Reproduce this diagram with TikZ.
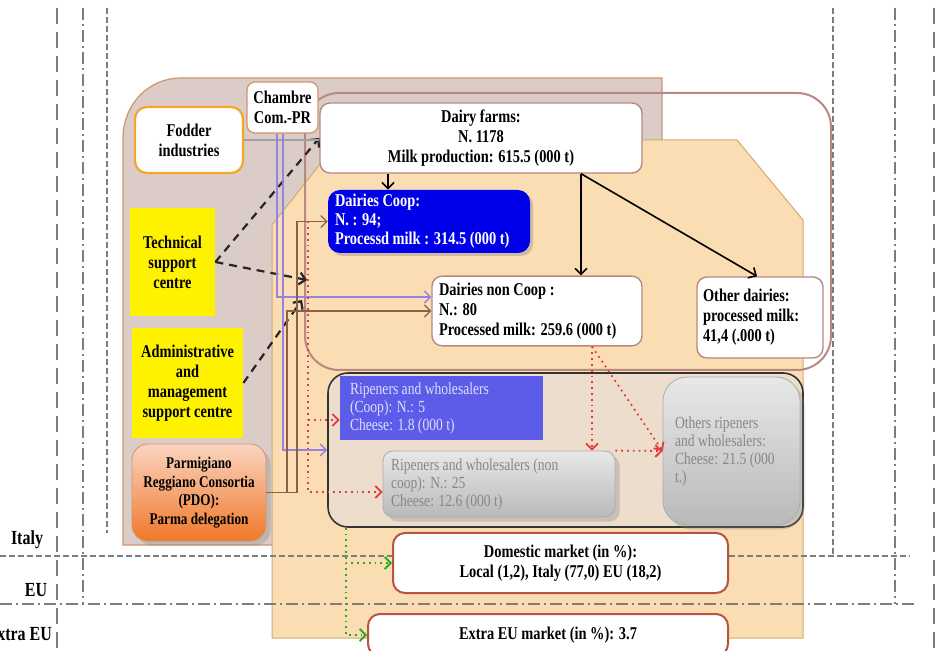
\documentclass[tikz,border=0pt]{standalone}
\usepackage{fontspec}
\setmainfont{Liberation Serif}[FakeStretch=0.8]
\usetikzlibrary{arrows.meta,shadows}
\definecolor{pinkbg}{RGB}{219,204,199}
\definecolor{pinkln}{RGB}{205,150,110}
\definecolor{tanbg}{RGB}{250,221,178}
\definecolor{tanln}{RGB}{212,170,110}
\definecolor{ripbg}{RGB}{236,221,204}
\definecolor{coopblue}{RGB}{0,0,232}
\definecolor{ripblue}{RGB}{92,92,232}
\definecolor{boxln}{RGB}{184,136,130}
\definecolor{mktln}{RGB}{184,84,66}
\definecolor{fodln}{RGB}{244,166,40}
\definecolor{brownln}{RGB}{140,96,72}
\definecolor{purpln}{RGB}{150,130,225}
\definecolor{reddot}{RGB}{226,60,60}
\definecolor{greendot}{RGB}{40,170,40}
\definecolor{bordln}{RGB}{125,125,125}
\begin{document}
\begin{tikzpicture}[x=0.5pt,y=-0.5pt,>={Straight Barb[length=3pt,width=6pt]},
	txt/.style={font=\fontsize{9}{10}\selectfont\bfseries,align=center},
	whitebox/.style={txt,draw=boxln,fill=white,rounded corners=5pt,line width=0.7pt},
	lbox/.style={whitebox,align=flush left},
	fodbox/.style={txt,draw=fodln,fill=white,rounded corners=6pt,line width=1.1pt},
	chambox/.style={txt,draw=pinkln,fill=white,rounded corners=4pt,line width=0.6pt,inner sep=2pt},
	yelbox/.style={txt,fill=yellow},
	coopbox/.style={font=\fontsize{9}{9.5}\selectfont\bfseries,align=flush left,fill=coopblue,text=white,rounded corners=6pt,
		drop shadow={shadow xshift=1.5pt,shadow yshift=-1.5pt,opacity=0.35}},
	parmbox/.style={font=\fontsize{8.2}{9.3}\selectfont\bfseries,align=center,draw=pinkln,
		top color={rgb,255:red,250;green,212;blue,192},bottom color={rgb,255:red,240;green,120;blue,40},
		rounded corners=8pt,drop shadow={opacity=0.3}},
	riptxt/.style={font=\fontsize{8.5}{9}\selectfont,align=flush left},
	ripcoopbox/.style={riptxt,fill=ripblue,text={rgb,255:red,222;green,222;blue,255}},
	graybox/.style={riptxt,top color=gray!18,bottom color=gray!55,draw=gray!65,
		text={rgb,255:red,135;green,135;blue,135},rounded corners=5pt,drop shadow={opacity=0.3}},
	mktbox/.style={txt,draw=mktln,fill=white,rounded corners=6pt,line width=1pt},
	lbl/.style={font=\fontsize{10}{11}\selectfont\bfseries},
	italyln/.style={bordln,line width=0.6pt,dash pattern=on 3pt off 1.5pt},
	euln/.style={bordln,line width=0.6pt,dash pattern=on 6pt off 2pt on 1pt off 2pt},
	extraln/.style={bordln,line width=0.7pt,dash pattern=on 8pt off 4pt},
	farmarrow/.style={->,thick,black},
	tscarrow/.style={->,line width=1.1pt,black!85,dash pattern=on 4pt off 3pt},
	brownarrow/.style={->,brownln,line width=0.6pt},
	purparrow/.style={->,purpln,line width=0.7pt},
	redarrow/.style={->,reddot,line width=0.9pt,dotted},
	greenarrow/.style={->,greendot,line width=0.9pt,dotted}]
	\clip (0,0) rectangle (947,651);
	%backgrounds
	\filldraw[fill=pinkbg,draw=pinkln,line width=0.6pt] (123,545) -- (123,138) .. controls (123,105) and (148,78) .. (181,78) -- (662,78) -- (662,545) -- cycle;
	\filldraw[fill=tanbg,draw=tanln,line width=0.5pt] (272,225) -- (339,140) -- (737,140) -- (803,220) -- (803,638) -- (272,638) -- cycle;
	\draw[boxln,line width=1pt,rounded corners=17pt] (305,93) rectangle (831,370);
	%Italy, EU, Extra EU
	\draw[italyln] (107,8) -- (107,533);
	\draw[italyln] (833,8) -- (833,556);
	\draw[italyln] (0,556) -- (910,556);
	\draw[euln] (83,8) -- (83,604);
	\draw[euln] (895,8) -- (895,604);
	\draw[euln] (0,604) -- (917,604);
	\draw[extraln] (57,8) -- (57,651);
	\draw[extraln] (934,8) -- (934,651);
	\node[lbl] (italy) at (27,540) {Italy};
	\node[lbl] (eu) at (36,590) {EU};
	\node[lbl,anchor=east] (extraeu) at (59,634) {Extra EU};
	%ripeners frame
	\node[draw=black!80,fill=ripbg,line width=0.8pt,rounded corners=10pt,minimum width=237.5pt,minimum height=77pt] (ripouter) at (565.5,450) {};
	%boxes
	\node[fodbox,minimum width=54pt,minimum height=33pt] (fodder) at (189,140) {Fodder\\industries};
	\node[chambox,minimum width=35.5pt,minimum height=25.5pt] (chambre) at (282.5,107.5) {Chambre\\Com.-PR};
	\node[whitebox,minimum width=161pt,minimum height=35pt] (farms) at (481,138) {Dairy farms:\\N. 1178\\Milk production: 615.5 (000 t)};
	\node[coopbox,text width=94pt,inner xsep=3.5pt,inner ysep=1.5pt,minimum height=31.5pt] (coop) at (429,221.5) {Dairies Coop:\\N. : 94;\\Processd milk : 314.5 (000 t)};
	\node[lbox,text width=98pt,inner xsep=3.5pt,minimum height=33pt] (noncoop) at (537,311) {Dairies non Coop :\\N.: 80\\Processed milk: 259.6 (000 t)};
	\node[lbox,text width=57pt,inner xsep=3pt,minimum height=40.5pt] (other) at (760,317.5) {Other dairies:\\processed milk:\\41,4 (.000 t)};
	\node[yelbox,minimum width=42.5pt,minimum height=54pt] (techn) at (172.5,262) {Technical\\support\\centre};
	\node[yelbox,minimum width=55.5pt,minimum height=55pt] (admin) at (187.5,383) {Administrative\\and\\management\\support centre};
	\node[parmbox,minimum width=67pt,minimum height=48.5pt] (parm) at (199,492.5) {Parmigiano\\Reggiano Consortia\\(PDO):\\Parma delegation};
	\node[ripcoopbox,text width=91.5pt,inner xsep=5pt,minimum height=31pt] (ripcoop) at (441.5,408) {Ripeners and wholesalers\\(Coop): N.: 5\\Cheese: 1.8 (000 t)};
	\node[graybox,text width=108pt,inner xsep=4pt,minimum height=33pt] (ripnon) at (499,484) {Ripeners and wholesalers (non\\coop): N.: 25\\Cheese: 12.6 (000 t)};
	\node[graybox,text width=56.5pt,inner xsep=6pt,minimum height=74pt,rounded corners=12pt] (ripoth) at (731.5,451) {Others ripeners\\and wholesalers:\\Cheese: 21.5 (000\\t.)};
	\node[mktbox,minimum width=167.5pt,minimum height=30pt] (domestic) at (560.5,563) {Domestic market (in \%):\\Local (1,2), Italy (77,0) EU (18,2)};
	\node[mktbox,minimum width=180pt,minimum height=21pt] (extra) at (548,635) {Extra EU market (in \%): 3.7};
	%arrows from the farms
	\draw[farmarrow] (388,0 |- farms.south) -- (388,0 |- coop.north);
	\draw[farmarrow] (581,0 |- farms.south) -- (581,0 |- noncoop.north);
	\draw[farmarrow] (581,0 |- farms.south) -- (757,0 |- other.north);
	%support centres
	\coordinate (tscin) at (307,280);
	\coordinate (amcin) at (302,300);
	\draw[tscarrow] (techn.east) -- (farms.west);
	\draw[tscarrow] (techn.east) -- (tscin);
	\draw[tscarrow] (admin.east) -- (amcin);
	%fodder, chambre, consortia
	\draw[gray!75,line width=0.6pt] (fodder.east) -- (fodder.east -| farms.west);
	\draw[purparrow] (277,0 |- chambre.south) |- (noncoop.west |- 0,297);
	\draw[purparrow] (283,0 |- chambre.south) |- (ripouter.west);
	\draw[brownarrow] (parm.east) -- (297,0 |- parm.east) |- (coop.west);
	\draw[brownarrow] (parm.east) -- (287,0 |- parm.east) |- (noncoop.west);
	%cheese flows
	\coordinate (redsplit) at (308,420);
	\draw[redarrow] (308,0 |- coop.west) |- ([yshift=-4pt]ripnon.west);
	\draw[redarrow] (redsplit) -- (ripcoop.west |- redsplit);
	\draw[redarrow] (592,0 |- noncoop.south) -- (592,0 |- ripnon.north);
	\draw[redarrow] (592,0 |- noncoop.south) -- (ripoth.west);
	\draw[redarrow] (ripnon.north east) -- (ripoth.west);
	%markets
	\draw[greenarrow] (346,0 |- ripouter.south) |- (domestic.west);
	\draw[greenarrow] (346,0 |- ripouter.south) |- (extra.west);
\end{tikzpicture}
\end{document}
